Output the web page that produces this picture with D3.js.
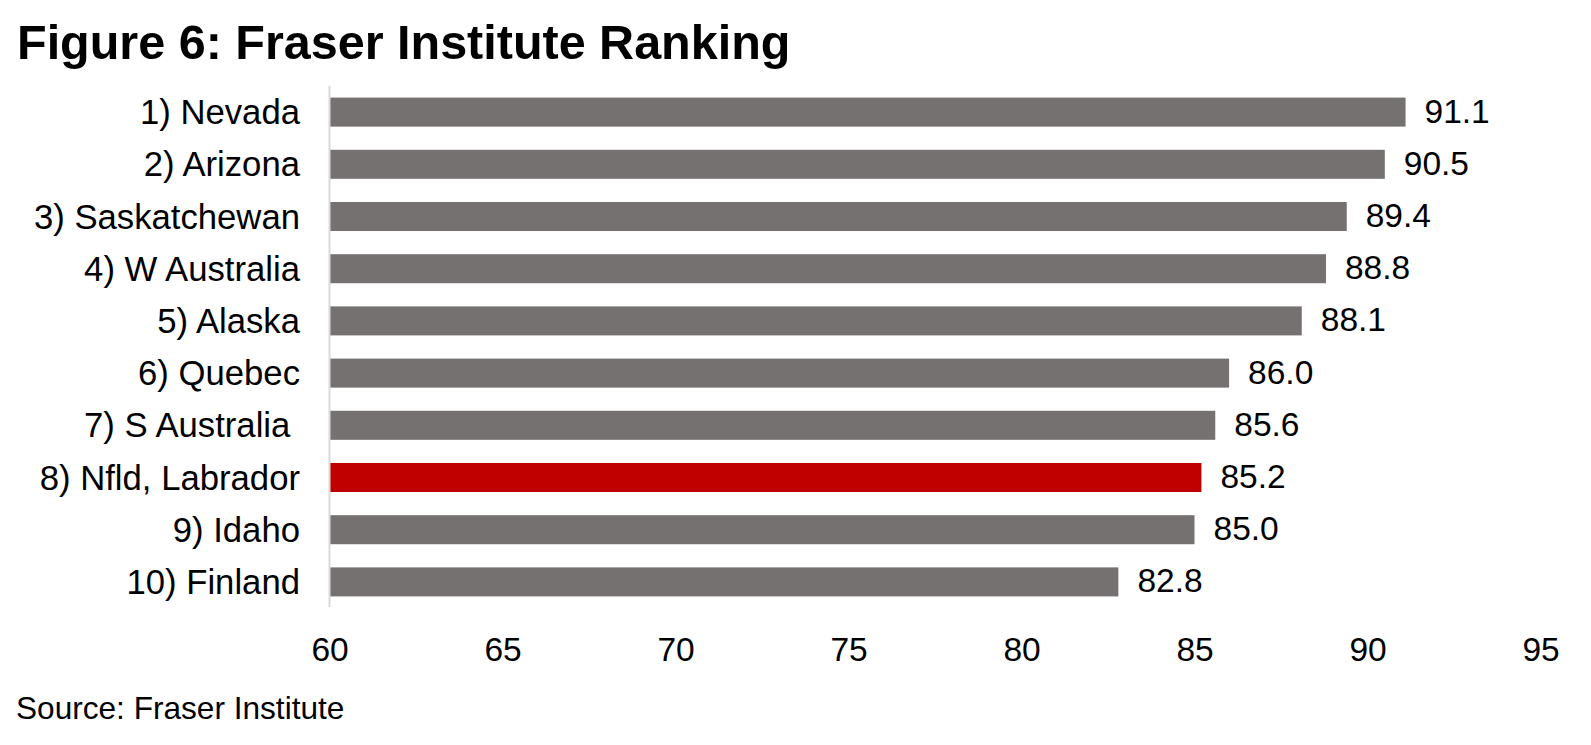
<!DOCTYPE html>
<html>
<head>
<meta charset="utf-8">
<script src="https://cdn.jsdelivr.net/npm/d3@7"></script>
<style>
  html, body { margin: 0; padding: 0; background: #fff; }
  svg { display: block; font-family: "Liberation Sans", Arial, sans-serif; }
</style>
</head>
<body>
<svg id="chart" width="1591" height="745"></svg>
<script>
const categories = ["1) Nevada", "2) Arizona", "3) Saskatchewan", "4) W Australia", "5) Alaska",
                    "6) Quebec", "7) S Australia ", "8) Nfld, Labrador", "9) Idaho", "10) Finland"];
const values = [91.1, 90.5, 89.4, 88.8, 88.1, 86.0, 85.6, 85.2, 85.0, 82.8];
const highlight = ["8) Nfld, Labrador"];
const xTicks = [60, 65, 70, 75, 80, 85, 90, 95];
const title = "Figure 6: Fraser Institute Ranking";
const source = "Source: Fraser Institute";

const data = categories.map((c, i) => ({ cat: c, val: values[i] }));
const svg = d3.select("#chart");

const x = d3.scaleLinear().domain([60, 95]).range([329.5, 1540.5]);
const y = d3.scaleBand().domain(categories).range([86, 608]).paddingInner(0.444).paddingOuter(0.222);

// title
svg.append("text").attr("x", 17).attr("y", 59)
  .attr("font-size", 48.5).attr("font-weight", "bold").attr("fill", "#000")
  .text(title);

// bars
svg.append("g").selectAll("rect").data(data).enter().append("rect")
  .attr("x", x(60) + 0.5)
  .attr("y", d => y(d.cat))
  .attr("width", d => x(d.val) - x(60) - 0.5)
  .attr("height", y.bandwidth())
  .attr("fill", d => highlight.includes(d.cat) ? "#C00000" : "#767171");

// vertical axis line
svg.append("line")
  .attr("x1", x(60)).attr("x2", x(60))
  .attr("y1", 86).attr("y2", 607)
  .attr("stroke", "#d9d9d9").attr("stroke-width", 2);

// category labels
svg.append("g").selectAll("text").data(data).enter().append("text")
  .attr("x", 300)
  .attr("y", d => y(d.cat) + y.bandwidth() / 2 + 12)
  .attr("text-anchor", "end")
  .attr("font-size", 34.7)
  .attr("fill", "#000")
  .style("white-space", "pre")
  .text(d => d.cat);

// value labels
svg.append("g").selectAll("text").data(data).enter().append("text")
  .attr("x", d => x(d.val) + 19)
  .attr("y", d => y(d.cat) + y.bandwidth() / 2 + 10.5)
  .attr("font-size", 33.5)
  .attr("fill", "#000")
  .text(d => d.val.toFixed(1));

// x axis (labels only)
const xAxis = d3.axisBottom(x).tickValues(xTicks).tickSize(0).tickPadding(0);
const gx = svg.append("g").attr("transform", "translate(0,637)").call(xAxis);
gx.select(".domain").remove();
gx.selectAll("text")
  .attr("font-size", 33.5)
  .attr("font-family", "Liberation Sans, Arial, sans-serif")
  .attr("fill", "#000")
  .attr("dy", "0.72em");

// source
svg.append("text").attr("x", 16).attr("y", 719)
  .attr("font-size", 31.6).attr("fill", "#000")
  .text(source);
</script>
</body>
</html>
